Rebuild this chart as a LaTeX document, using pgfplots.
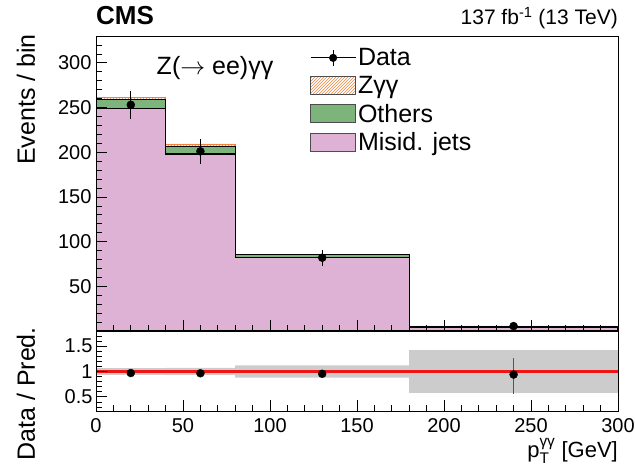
\documentclass[border=0pt]{standalone}
\usepackage{fontspec}
\setmainfont{Liberation Sans}
\usepackage{amsmath}
\usepackage{pgfplots}
\usepackage{pgfplotstable}
\pgfplotsset{compat=1.18}
\usetikzlibrary{patterns}

\definecolor{misid}{RGB}{222,178,212}
\definecolor{others}{RGB}{124,180,124}
\definecolor{zgg}{RGB}{245,130,60}
\definecolor{band}{RGB}{204,204,204}
\definecolor{errblue}{RGB}{70,70,210}
\definecolor{unitred}{RGB}{240,20,20}

\newcommand\ticksize{\fontsize{20}{23}\selectfont}
\newcommand\labsize{\fontsize{25}{28}\selectfont}
\newcommand\legsize{\fontsize{25}{28}\selectfont}

% background components per bin (bin edges 0,40,80,180,300)
\pgfplotstableread{
x   misid others zgg
0   249   10     2.5
40  198   9      2.3
80  82    3.5    0.6
180 4.5   1.0    0.3
300 4.5   1.0    0.3
}\bkg

\pgfplotstableread{
x   y    ey
20  253  16
60  201  14
130 82   9
240 5.5  2.3
}\data

\pgfplotstableread{
x   r     ep    em
20  0.97  0.02  0.02
60  0.965 0.02  0.02
130 0.955 0.07  0.07
240 0.94  0.33  0.39
}\ratio

\pgfplotsset{
  rootstyle/.style={
    scale only axis,
    width=522pt,
    xmin=0, xmax=300,
    tick align=inside,
    xtick pos=bottom, ytick pos=left,
    major tick length=11pt, minor tick length=6pt,
    every tick/.style={black, line width=0.7pt},
    axis line style={line width=0.9pt},
    /pgf/number format/assume math mode=true,
    tick label style={font=\ticksize},
    axis on top,
  },
}

\begin{document}
\begin{tikzpicture}
\path[use as bounding box] (0pt,0pt) rectangle (635pt,467pt);

% main panel
\begin{axis}[
  rootstyle,
  at={(96pt,136pt)}, anchor=south west,
  height=295pt,
  ymin=0, ymax=330,
  xtick={0,50,...,300}, xticklabels={},
  minor xtick={0,10,...,300},
  ytick={50,100,...,300},
  minor ytick={0,10,...,330},
  yticklabel style={xshift=-1pt},
  legend cell align=left,
  legend style={draw=none, fill=none, font=\legsize,
    at={(rel axis cs:0.41,0.965)}, anchor=north west,
    row sep=5pt, inner sep=0pt,
    nodes={inner sep=2pt}},
]
\addlegendimage{legend image code/.code={
  \draw[black, line width=0.8pt] (0pt,0pt) -- (45pt,0pt);
  \draw[black, line width=0.8pt] (22.5pt,-8pt) -- (22.5pt,8pt);
  \fill[black] (22.5pt,0pt) circle (3.8pt);}}
\addlegendentry{Data}
\addlegendimage{legend image code/.code={
  \draw[pattern=north east lines, pattern color=zgg, draw=black!70, line width=0.6pt]
    (0pt,-9pt) rectangle (45pt,9pt);}}
\addlegendentry{Zγγ}
\addlegendimage{legend image code/.code={
  \draw[fill=others, draw=black!70, line width=0.6pt] (0pt,-9pt) rectangle (45pt,9pt);}}
\addlegendentry{Others}
\addlegendimage{legend image code/.code={
  \draw[fill=misid, draw=black!70, line width=0.6pt] (0pt,-9pt) rectangle (45pt,9pt);}}
\addlegendentry{Misid. jets}

% stacked histogram (drawn back to front)
\addplot[forget plot, const plot, draw=zgg, line width=0.6pt,
  pattern=north east lines, pattern color=zgg]
  table[x=x, y expr=\thisrow{misid}+\thisrow{others}+\thisrow{zgg}]{\bkg} \closedcycle;
\addplot[forget plot, const plot, fill=others, draw=black, line width=0.8pt]
  table[x=x, y expr=\thisrow{misid}+\thisrow{others}]{\bkg} \closedcycle;
\addplot[forget plot, const plot, fill=misid, draw=black, line width=1.3pt]
  table[x=x, y=misid]{\bkg} \closedcycle;

% data
\addplot[forget plot, only marks, mark=*, mark size=4pt, black,
  error bars/.cd, y dir=both, y explicit, error mark=none,
  error bar style={black, line width=0.8pt}]
  table[x=x, y=y, y error=ey]{\data};

\node[font=\legsize] at (rel axis cs:0.228,0.89) {Z($\rightarrow$ ee)γγ};
\end{axis}

% ratio panel
\begin{axis}[
  rootstyle,
  at={(96pt,56pt)}, anchor=south west,
  height=80pt,
  ymin=0.22, ymax=1.8,
  xtick={0,50,...,300},
  minor xtick={0,10,...,300},
  ytick={0.5,1,1.5}, yticklabels={0.5,1,1.5},
  minor ytick={0.3,0.4,0.6,0.7,0.8,0.9,1.1,1.2,1.3,1.4,1.6,1.7},
  xticklabel style={yshift=-4pt},
]
\addplot[fill=band, draw=none] coordinates {
  (0,1.065) (40,1.065) (40,1.07) (80,1.07) (80,1.12) (180,1.12) (180,1.42) (300,1.42)
  (300,0.58) (180,0.58) (180,0.88) (80,0.88) (80,0.93) (40,0.93) (40,0.935) (0,0.935)};
\addplot[draw=unitred, line width=2.2pt] coordinates {(0,1) (300,1)};
\addplot[only marks, mark=*, mark size=4pt, black,
  error bars/.cd, y dir=both, y explicit, error mark=none,
  error bar style={draw=errblue, line width=1.2pt}]
  table[x=x, y=r, y error plus=ep, y error minus=em]{\ratio};
\end{axis}

% labels and header
\node[rotate=90, anchor=east, inner sep=0pt, font=\labsize] at (26pt,433pt) {Events / bin};
\node[rotate=90, anchor=east, inner sep=0pt, font=\labsize] at (26pt,140pt) {Data / Pred.};
\node[anchor=base east, inner sep=0pt, font=\fontsize{22}{25}\selectfont] at (618pt,10pt)
  {p$_{\text{T}}^{\text{γγ}}$ [GeV]};
\node[anchor=base west, inner sep=0pt, font=\fontsize{26}{30}\selectfont\bfseries] at (96pt,442pt) {CMS};
\node[anchor=base east, inner sep=0pt, font=\fontsize{21}{24}\selectfont] at (618pt,442pt)
  {137 fb\textsuperscript{-1} (13 TeV)};
\end{tikzpicture}
\end{document}
